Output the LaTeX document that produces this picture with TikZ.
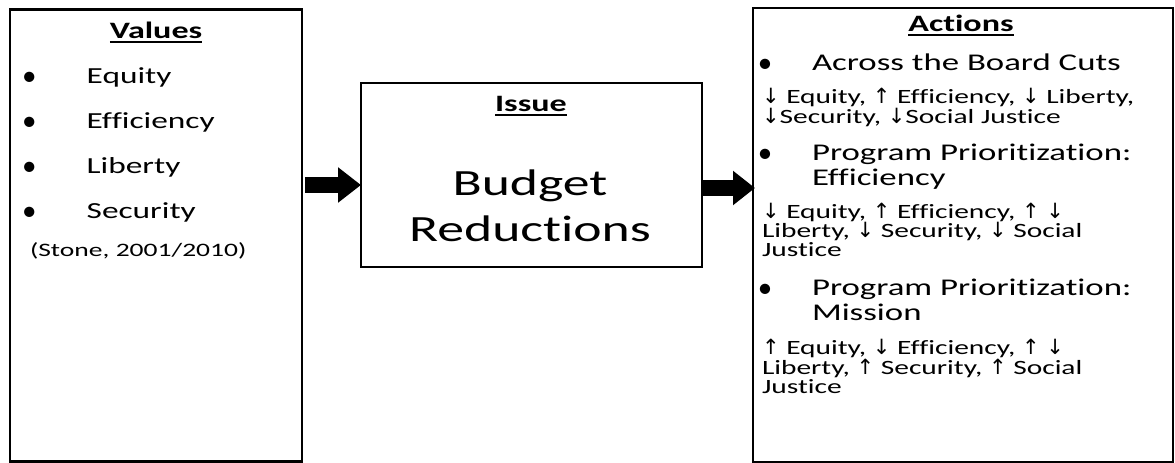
\documentclass[tikz,border=0pt]{standalone}
\usepackage{fontspec}
\setmainfont{Carlito}[FakeStretch=1.45,Ligatures={NoCommon}]
\newfontfamily\plainfont{Carlito}
\newfontfamily\arrfont{DejaVu Sans}
\usetikzlibrary{arrows.meta}
\newcommand{\dnarr}{{\arrfont\fontsize{21}{21}\selectfont ↓}}
\newcommand{\uparr}{{\arrfont\fontsize{21}{21}\selectfont ↑}}
\begin{document}
\begin{tikzpicture}[x=1pt,y=-1pt,
  every node/.style={inner sep=0pt,outer sep=0pt},
  frame/.style={draw,line width=2.7pt},
  ttl/.style={anchor=base,font=\fontsize{23.5}{23.5}\selectfont\bfseries},
  ulin/.style={line width=1.8pt},
  item/.style={anchor=base west,font=\fontsize{23}{23}\selectfont},
  bigitem/.style={anchor=base west,align=left,font=\fontsize{24}{25}\selectfont},
  small/.style={anchor=base west,align=left,font=\fontsize{20.3}{19.3}\selectfont},
  bul/.style={anchor=base,font=\plainfont\fontsize{29}{29}\selectfont},
  blockarrow/.style={line width=16pt,-{Triangle[length=23pt,width=34pt]}}]
\useasboundingbox (0,0) rectangle (1175,463);
% frames
\node[frame,minimum width=292pt,minimum height=452pt] (values) at (156,235.75) {};
\node[frame,minimum width=341pt,minimum height=184pt] (issue) at (531.5,175) {};
\node[frame,minimum width=420pt,minimum height=454pt] (actions) at (963,235) {};
% Values
\node[ttl] (vt) at (156,38.3) {Values};
\draw[ulin] ([yshift=-3.5pt]vt.base west) -- ([yshift=-3.5pt]vt.base east);
\node[bul] (vb1) at (29.3,85) {•};
\node[item] (v1) at (86.7,83) {Equity};
\node[bul] (vb2) at (29.3,130) {•};
\node[item] (v2) at (86.7,128) {Efficiency};
\node[bul] (vb3) at (29.3,175) {•};
\node[item] (v3) at (86.7,173) {Liberty};
\node[bul] (vb4) at (29.3,220) {•};
\node[item] (v4) at (86.7,218) {Security};
\node[anchor=base west,font=\fontsize{19}{19}\selectfont] (cite) at (30,256) {(Stone, 2001/2010)};
% Issue
\node[ttl] (it) at (531,111.7) {Issue};
\draw[ulin] ([yshift=-3.5pt]it.base west) -- ([yshift=-3.5pt]it.base east);
\node[anchor=base,font=\fontsize{37}{46.7}\selectfont,align=center] (bud) at (530,241.7) {Budget\\Reductions};
% Actions
\node[ttl] (at) at (961,31.7) {Actions};
\draw[ulin] ([yshift=-3.5pt]at.base west) -- ([yshift=-3.5pt]at.base east);
\node[bul] (ab1) at (765,72) {•};
\node[bigitem] (a1) at (812,70) {Across the Board Cuts};
\node[small] (s1) at (762,123) {\dnarr{} Equity, \uparr{} Efficiency, \dnarr{} Liberty,\\\dnarr Security, \dnarr Social Justice};
\node[bul] (ab2) at (765,162) {•};
\node[bigitem] (a2) at (812,185) {Program Prioritization:\\Efficiency};
\node[small] (s2) at (762,256.7) {\dnarr{} Equity, \uparr{} Efficiency, \uparr{} \dnarr\\Liberty, \dnarr{} Security, \dnarr{} Social\\Justice};
\node[bul] (ab3) at (765,297) {•};
\node[bigitem] (a3) at (812,320) {Program Prioritization:\\Mission};
\node[small] (s3) at (762,393.3) {\uparr{} Equity, \dnarr{} Efficiency, \uparr{} \dnarr\\Liberty, \uparr{} Security, \uparr{} Social\\Justice};
% connectors
\coordinate (c1) at (305,185);
\draw[blockarrow] (c1) -- (issue.west |- c1);
\coordinate (c2) at (issue.east |- 0,188);
\coordinate (c2e) at (755,188);
\draw[blockarrow,-{Triangle[length=22pt,width=33pt]}] (c2) -- (c2e);
\end{tikzpicture}
\end{document}
